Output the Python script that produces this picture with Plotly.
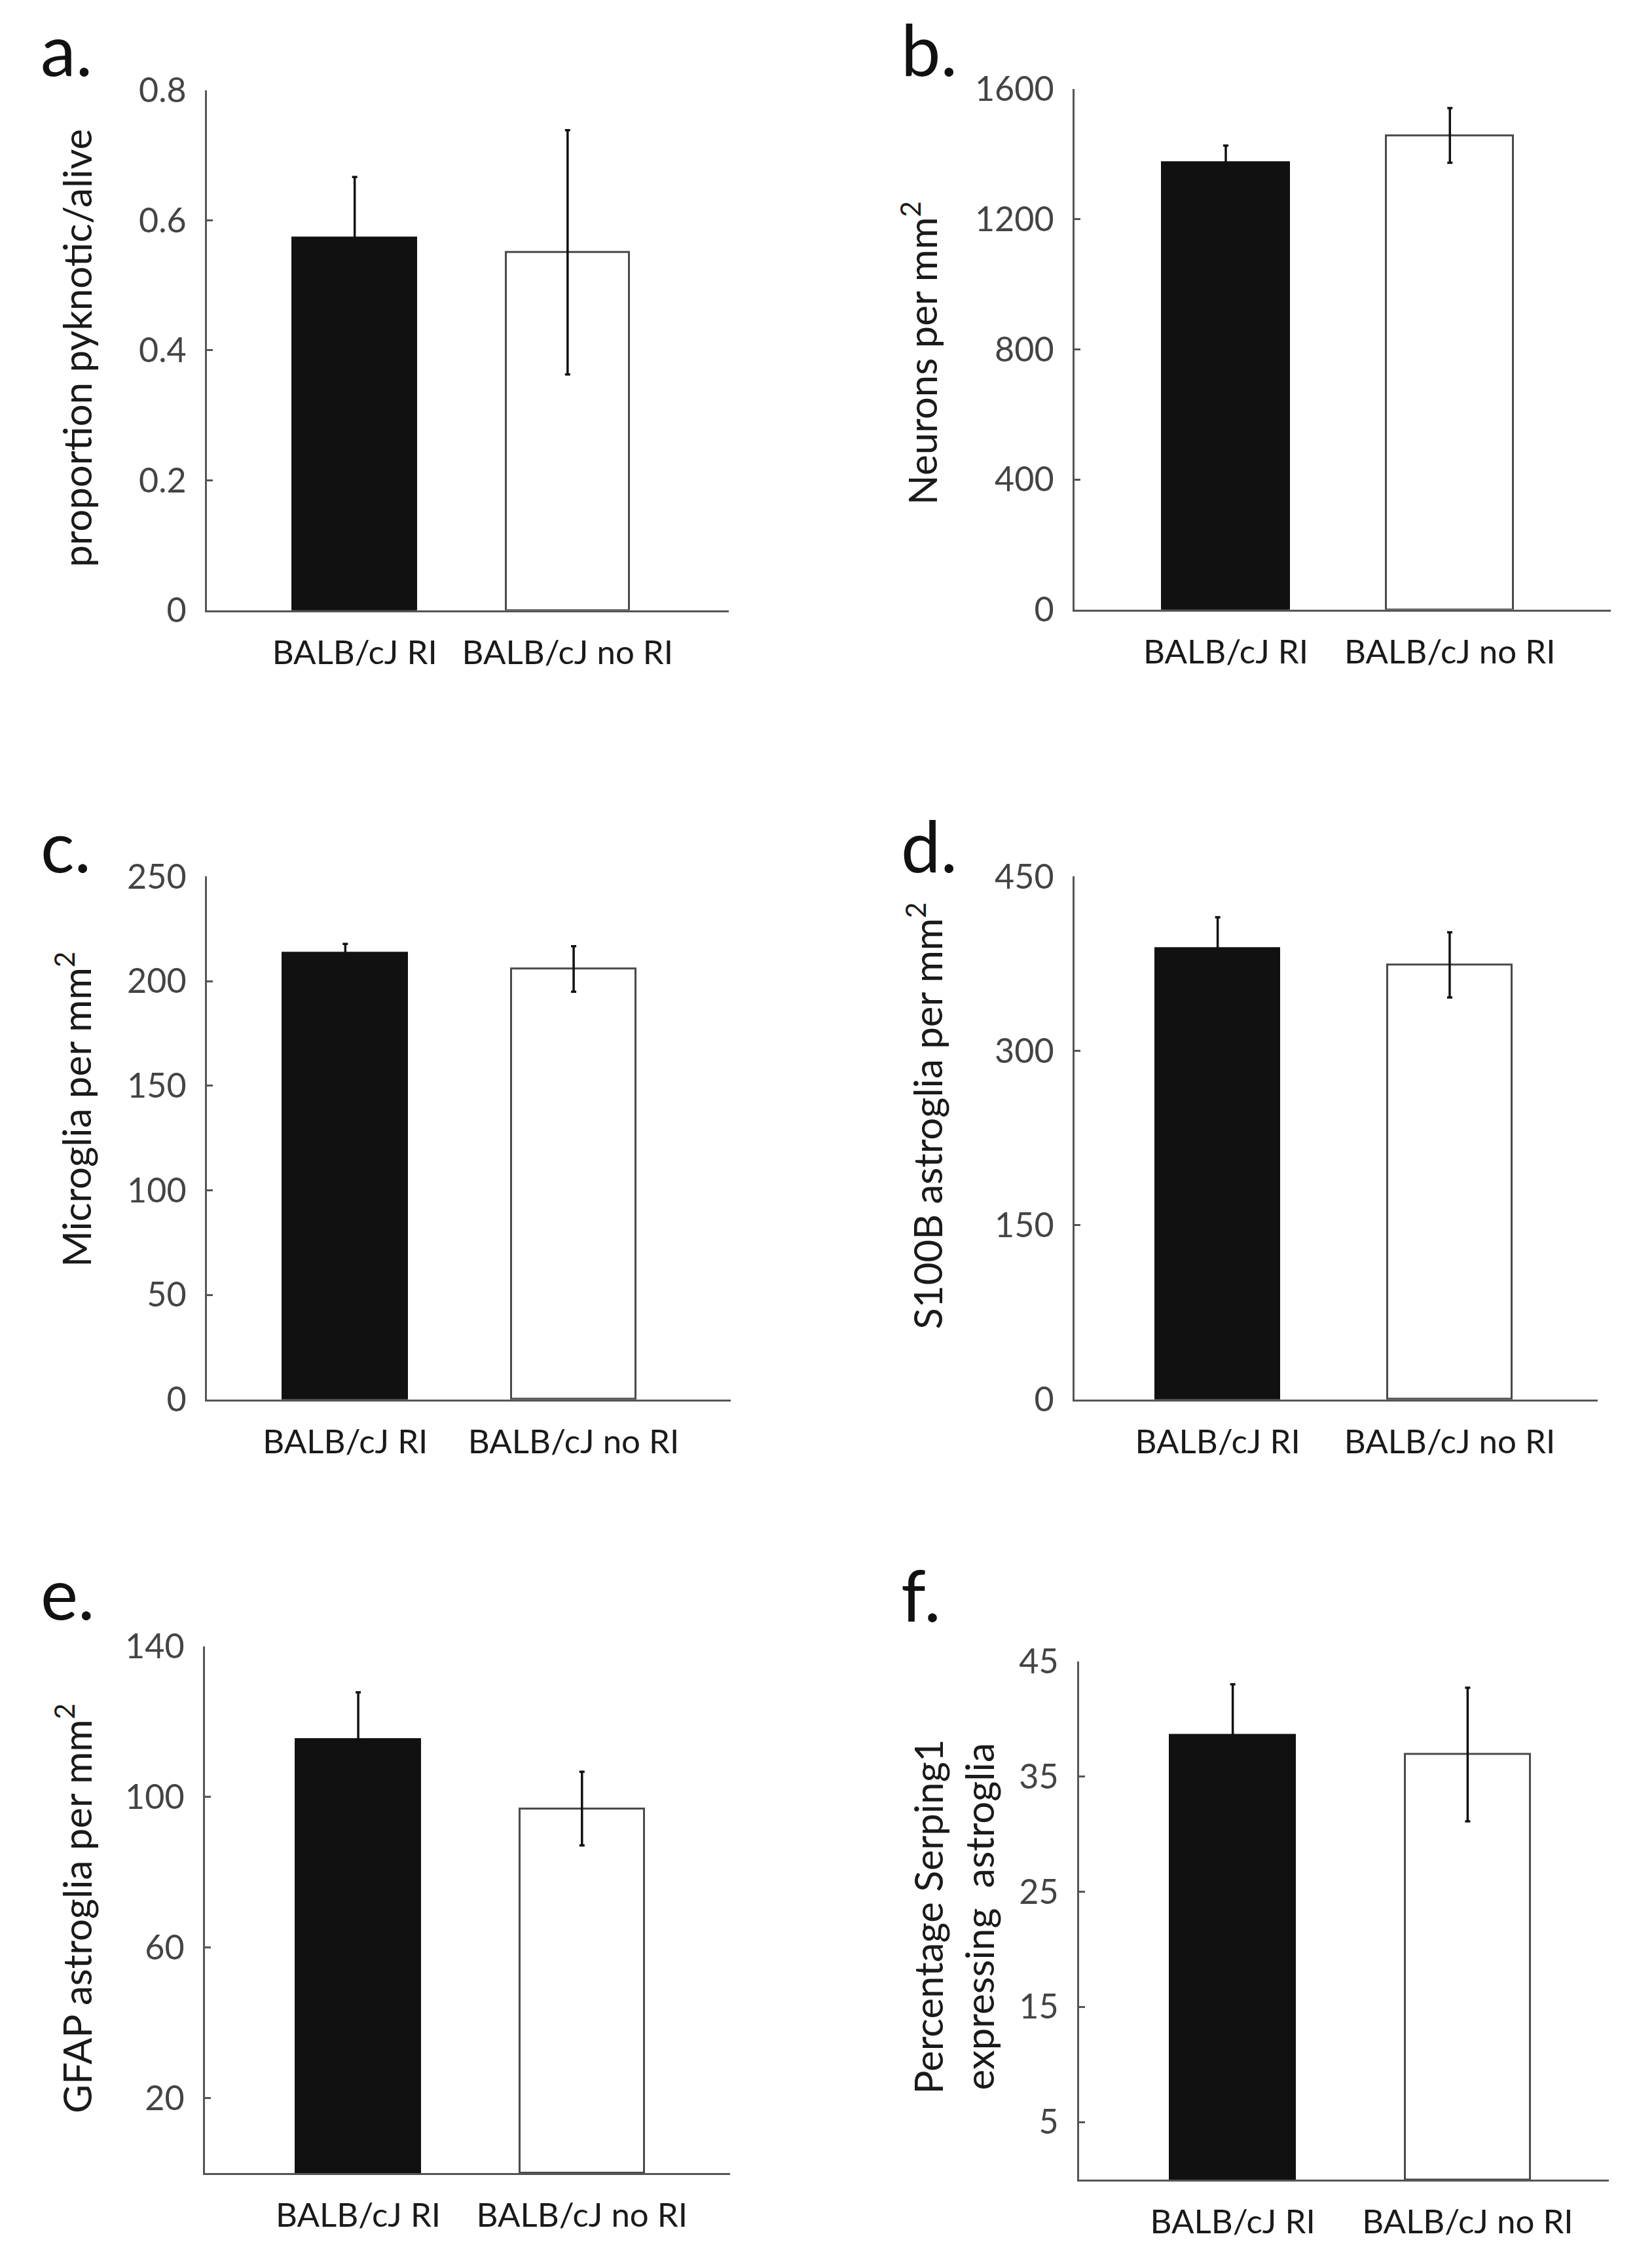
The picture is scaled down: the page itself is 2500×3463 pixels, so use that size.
import plotly.graph_objs as go

# groups shown on every panel
groups = ["BALB/cJ RI", "BALB/cJ no RI"]

# a. proportion pyknotic / alive
pyknotic_mean = [0.573, 0.551]
pyknotic_err = [0.094, 0.188]
pyknotic_ticks = [0, 0.2, 0.4, 0.6, 0.8]

# b. neurons per mm2
neurons_mean = [1375, 1458]
neurons_err = [52, 84]
neurons_ticks = [0, 400, 800, 1200, 1600]

# c. microglia per mm2
microglia_mean = [213.4, 205.8]
microglia_err = [4.4, 10.9]
microglia_ticks = [0, 50, 100, 150, 200, 250]

# d. S100B astroglia per mm2
s100b_mean = [388, 374]
s100b_err = [27, 28]
s100b_ticks = [0, 150, 300, 450]

# e. GFAP astroglia per mm2
gfap_mean = [115.2, 96.9]
gfap_err = [12.6, 9.8]
gfap_ticks = [20, 60, 100, 140]

# f. percentage Serping1 expressing astroglia
serping_mean = [38.6, 36.9]
serping_err = [4.4, 5.8]
serping_ticks = [5, 15, 25, 35, 45]

W, H = 2500, 3463
FONT = "Lato"


def px(x, y):
    # pixel position on the page -> paper coords
    return x / W, 1 - y / H


panels = [
    # letter, mean, err, ticks, ymax, title, (x0, x1, ytop, ybot), x range, bar width, letter pos, title pos
    ("a.", pyknotic_mean, pyknotic_err, pyknotic_ticks, 0.8, "proportion pyknotic/alive",
     (308, 1105, 99, 907), [-0.694, 1.757], 0.58, (52, 34), (109, 500)),
    ("b.", neurons_mean, neurons_err, neurons_ticks, 1600, "Neurons per mm<sup>2</sup>",
     (1633, 2452, 97, 906), [-0.675, 1.718], 0.567, (1366, 34), (1397, 507)),
    ("c.", microglia_mean, microglia_err, microglia_ticks, 250, "Microglia per mm<sup>2</sup>",
     (308, 1108, 1321, 2134), [-0.606, 1.688], 0.544, (52, 1272), (105, 1683)),
    ("d.", s100b_mean, s100b_err, s100b_ticks, 450, "S100B astroglia per mm<sup>2</sup>",
     (1633, 2432, 1321, 2134), [-0.617, 1.638], 0.534, (1366, 1272), (1405, 1693)),
    ("e.", gfap_mean, gfap_err, gfap_ticks, 140, "GFAP astroglia per mm<sup>2</sup>",
     (305, 1107, 2518, 3337), [-0.685, 1.662], 0.556, (52, 2434), (105, 2925)),
    ("f.", serping_mean, serping_err, serping_ticks, 45, "Percentage Serping1<br>expressing  astroglia",
     (1640, 2449, 2541, 3347), [-0.654, 1.601], 0.534, (1366, 2437), (1448, 2938)),
]

fig = go.Figure()
annotations = []

for i, (letter, mean, err, ticks, ymax, title, box, xr, bw, lpos, tpos) in enumerate(panels):
    n = i + 1
    xa = "x" if n == 1 else "x%d" % n
    ya = "y" if n == 1 else "y%d" % n

    fig.add_trace(go.Bar(
        x=groups,
        y=mean,
        width=bw,
        marker=dict(color=["#111111", "#ffffff"], line=dict(color=["#111111", "#4a4a4a"], width=3)),
        error_y=dict(type="data", array=err, color="#111111", thickness=3.5, width=4),
        xaxis=xa, yaxis=ya,
        showlegend=False,
    ))

    x0, x1, ytop, ybot = box
    xd0, yd0 = px(x0, ybot)
    xd1, yd1 = px(x1, ytop)
    fig.layout["xaxis" if n == 1 else "xaxis%d" % n] = dict(
        domain=[xd0, xd1], anchor=ya, type="category",
        range=xr, showline=True, linecolor="#555555", linewidth=3,
        ticks="", showgrid=False, zeroline=False,
        tickfont=dict(family=FONT, size=51, color="#1a1a1a"),
        ticklabelstandoff=18,
    )
    fig.layout["yaxis" if n == 1 else "yaxis%d" % n] = dict(
        domain=[yd0, yd1], anchor=xa,
        range=[0, ymax], showline=True, linecolor="#555555", linewidth=3,
        ticks="inside", ticklen=9, tickwidth=3, tickcolor="#555555",
        tickvals=ticks, ticktext=[("%g" % t) for t in ticks],
        showgrid=False, zeroline=False,
        tickfont=dict(family=FONT, size=52, color="#444444"),
        ticklabelstandoff=18,
    )

    lx, ly = px(*lpos)
    annotations.append(dict(
        text=letter, x=lx, y=ly, xref="paper", yref="paper",
        xanchor="left", yanchor="middle", showarrow=False,
        font=dict(family=FONT, size=108, color="#111111"),
    ))
    tx, ty = px(*tpos)
    annotations.append(dict(
        text=title, x=tx, y=ty, xref="paper", yref="paper",
        xanchor="center", yanchor="middle", showarrow=False, textangle=-90,
        font=dict(family=FONT, size=60, color="#1a1a1a"),
    ))

fig.update_layout(
    width=W, height=H,
    margin=dict(l=0, r=0, t=0, b=0),
    paper_bgcolor="white", plot_bgcolor="white",
    bargap=0,
    annotations=annotations,
)

fig.write_html("out.html")
